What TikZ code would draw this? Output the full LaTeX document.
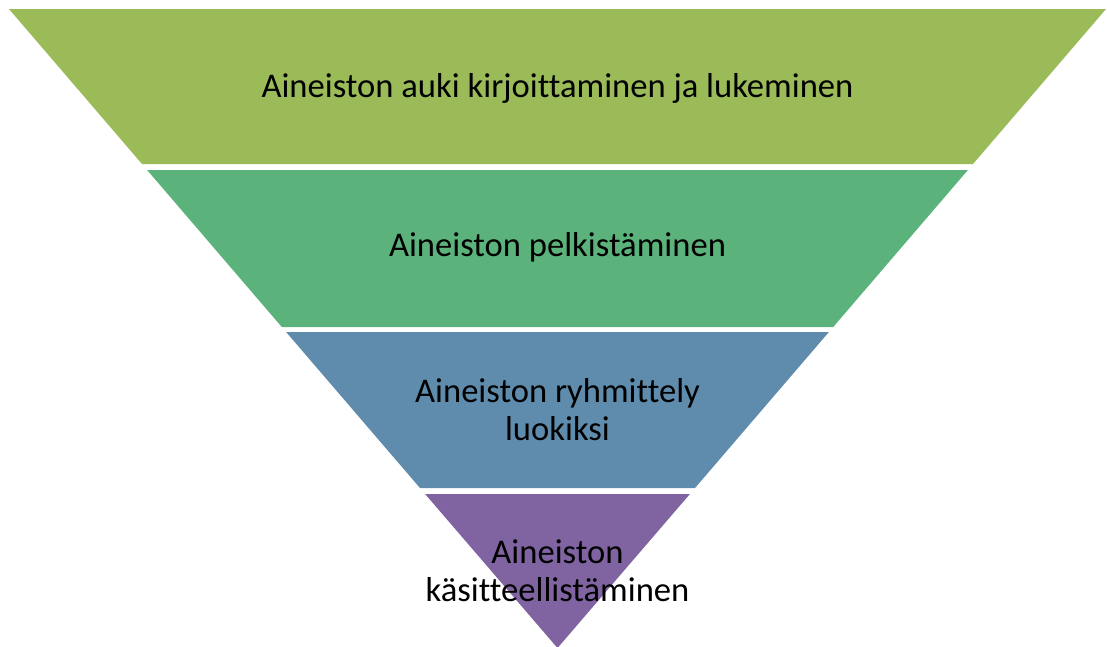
\documentclass[tikz,border=0pt]{standalone}
\usepackage{fontspec}
\setmainfont{Carlito}[Ligatures=CommonOff]
\usetikzlibrary{positioning}
\definecolor{bandA}{HTML}{9BBB59}
\definecolor{bandB}{HTML}{5BB37B}
\definecolor{bandC}{HTML}{5F8CAD}
\definecolor{bandD}{HTML}{8064A2}
\tikzstyle{band}=[draw=none]
\tikzstyle{lbl}=[shape=rectangle, align=center, inner sep=0pt, anchor=base, text=black, font=\fontsize{34.6}{38}\selectfont]
\def\lbl{\node[style=lbl]}
\def\band{\fill[style=band]}

\begin{document}
\begin{tikzpicture}[x=1pt, y=-1pt]
      \useasboundingbox (0,0) rectangle (1107,646);
      % bands
      \band[bandA] (9,9)     -- (1106,9)    -- (973,164)   -- (142,164) -- cycle;
      \band[bandB] (147.1,170) -- (967.9,170) -- (833.2,327) -- (281.8,327) -- cycle;
      \band[bandC] (286.1,332) -- (828.9,332) -- (695,488)   -- (420,488) -- cycle;
      \band[bandD] (425.1,494) -- (689.9,494) -- (557.5,648) -- cycle;
      % labels (base = last line)
      \lbl (lblA) at (557.5,97)  {Aineiston auki kirjoittaminen ja lukeminen};
      \lbl (lblB) at (557.5,256) {Aineiston pelkistäminen};
      \lbl (lblC) at (557.5,440) {Aineiston ryhmittely\\luokiksi};
      \lbl (lblD) at (557.5,601) {Aineiston\\käsitteellistäminen};
\end{tikzpicture}
\end{document}
